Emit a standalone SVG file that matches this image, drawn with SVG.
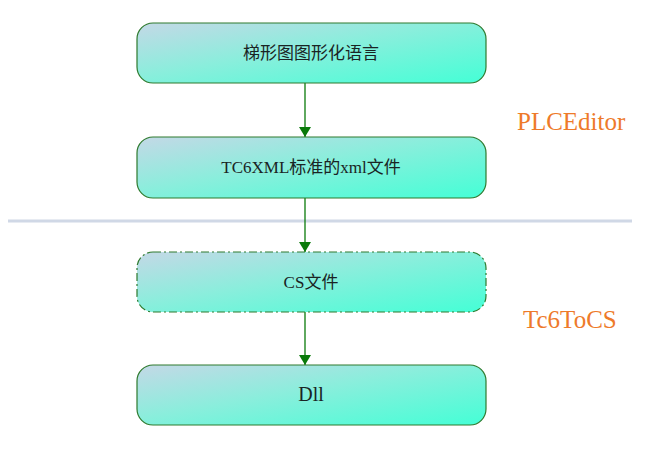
<svg xmlns="http://www.w3.org/2000/svg" width="657" height="451" viewBox="0 0 657 451">
<defs>
<linearGradient id="g" x1="0" y1="0" x2="1" y2="1" gradientUnits="objectBoundingBox">
<stop offset="0" stop-color="#C4D8E6"/>
<stop offset="0.45" stop-color="#8AEEDC"/>
<stop offset="1" stop-color="#44FFD6"/>
</linearGradient>
<marker id="ah" viewBox="0 0 10 16" refX="10" refY="8" markerWidth="10" markerHeight="16" markerUnits="userSpaceOnUse" orient="auto">
<path d="M0,2 L10,8 L0,14 Z" fill="#0A7A0A"/>
</marker>
<style>
.box{fill:url(#g);stroke:#2E7A2E;stroke-width:1.2}
.dash{stroke-dasharray:8 3 2 3}
.lbl{font-family:"Liberation Serif","Noto Sans CJK SC",serif;font-size:17px;fill:#1A2424;text-anchor:middle}
.side{font-family:"Liberation Serif",serif;font-size:25px;fill:#EE7A2A}
.con{stroke:#0A7A0A;stroke-width:1.3;fill:none;marker-end:url(#ah)}
</style>
</defs>
<rect x="0" y="0" width="657" height="451" fill="#FFFFFF"/>
<line x1="8" y1="221" x2="632" y2="221" stroke="#D0D8E6" stroke-width="3"/>
<g id="connectors">
<line class="con" x1="305" y1="83" x2="305" y2="137"/>
<line class="con" x1="305" y1="198" x2="305" y2="252"/>
<line class="con" x1="305" y1="312" x2="305" y2="365"/>
</g>
<g id="n1">
<rect class="box" x="137" y="23" width="349" height="60" rx="16"/>
<text class="lbl" x="311" y="59">梯形图图形化语言</text>
</g>
<g id="n2">
<rect class="box" x="137" y="137" width="349" height="61" rx="16"/>
<text class="lbl" x="311" y="173">TC6XML标准的xml文件</text>
</g>
<g id="n3">
<rect class="box dash" x="137" y="252" width="349" height="60" rx="16"/>
<text class="lbl" x="311" y="288">CS文件</text>
</g>
<g id="n4">
<rect class="box" x="137" y="365" width="349" height="60" rx="16"/>
<text class="lbl" x="311" y="401" style="font-size:20px">Dll</text>
</g>
<text class="side" x="517" y="130">PLCEditor</text>
<text class="side" x="523" y="328">Tc6ToCS</text>
</svg>
